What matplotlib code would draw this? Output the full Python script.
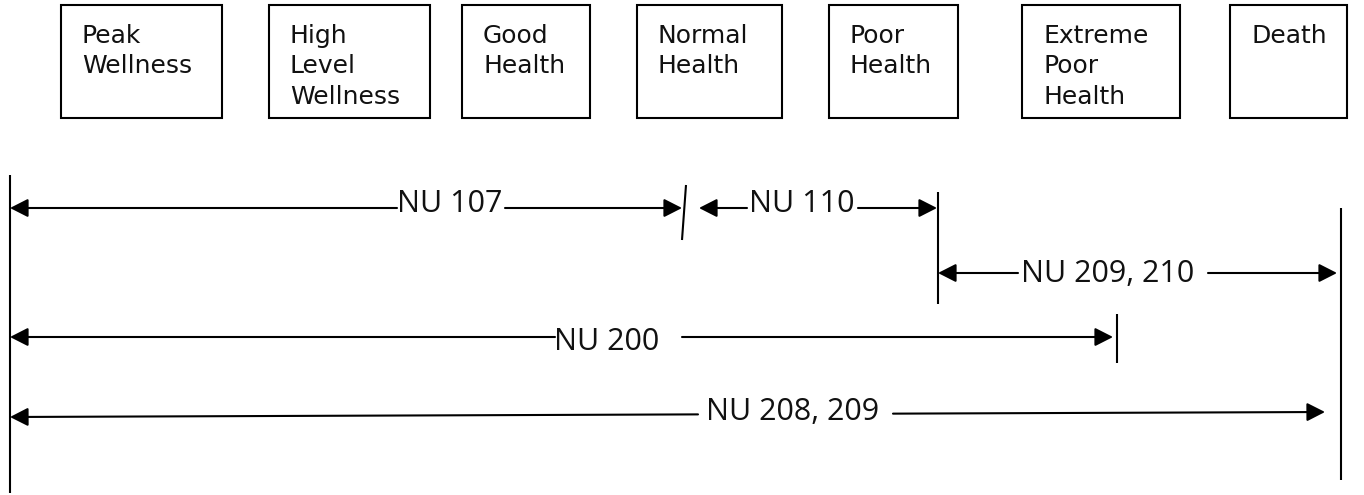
import matplotlib.pyplot as plt
from matplotlib.patches import FancyArrowPatch, Rectangle

# Stages of the health continuum (row of boxes)
stages = ['Peak\nWellness', 'High\nLevel\nWellness', 'Good\nHealth', 'Normal\nHealth',
          'Poor\nHealth', 'Extreme\nPoor\nHealth', 'Death']

# Courses and the stretch of the continuum each one covers
courses = ['NU 107', 'NU 110', 'NU 209, 210', 'NU 200', 'NU 208, 209']

# Layout (pixel coords, y down)
box_left = [61, 269, 462, 637, 829, 1022, 1230]
box_right = [222, 430, 590, 782, 958, 1180, 1347]
box_top, box_bottom = 5, 118

course_x0 = [10, 699, 938, 10, 10]          # left arrow tip
course_x1 = [682, 937, 1337, 1113, 1325]    # right arrow tip
course_y0 = [208, 208, 273, 337, 417]       # line height at left
course_y1 = [208, 208, 273, 337, 412]       # line height at right
line_gap_a = [397, 747, 1018, 555, 698]     # left segment stops here
line_gap_b = [505, 858, 1208, 682, 893]     # right segment starts here
label_x = [397, 749, 1021, 554, 706]
label_base = [212, 212, 282, 350, 420]

# vertical boundary marks: (x top, y top, x bottom, y bottom)
marks = [(10, 175, 10, 493), (686, 185, 682, 240), (938, 192, 938, 304),
         (1117, 314, 1117, 363), (1341, 208, 1341, 480)]

fig = plt.figure(figsize=(13.64, 4.95), dpi=100)
ax = fig.add_axes([0, 0, 1, 1])
ax.set_xlim(0, 1364)
ax.set_ylim(495, 0)
ax.axis('off')

lw = 1.5

# boxes with stage names
for name, l, r in zip(stages, box_left, box_right):
    ax.add_patch(Rectangle((l, box_top), r - l, box_bottom - box_top,
                           fill=False, edgecolor='black', linewidth=lw))
    ax.text(l + 21, 24, name, ha='left', va='top', fontsize=18,
            family='DejaVu Sans', linespacing=1.33, color='#111111')

# vertical marks
for xa, ya, xb, yb in marks:
    ax.plot([xa, xb], [ya, yb], color='black', linewidth=lw, solid_capstyle='butt')

def y_at(x, x0, x1, y0, y1):
    return y0 + (y1 - y0) * (x - x0) / (x1 - x0)

style = '-|>,head_length=11,head_width=5.6'
for i, label in enumerate(courses):
    x0, x1, y0, y1 = course_x0[i], course_x1[i], course_y0[i], course_y1[i]
    a, b = line_gap_a[i], line_gap_b[i]
    for xs, xe in [(a, x0), (b, x1)]:
        arr = FancyArrowPatch((xs, y_at(xs, x0, x1, y0, y1)), (xe, y_at(xe, x0, x1, y0, y1)),
                              arrowstyle=style, mutation_scale=1, shrinkA=0, shrinkB=0,
                              color='black', linewidth=lw)
        ax.add_patch(arr)
    ax.text(label_x[i], label_base[i], label, ha='left', va='baseline',
            fontsize=22, family='Open Sans', color='#111111')

plt.savefig('out.png', dpi=100)
